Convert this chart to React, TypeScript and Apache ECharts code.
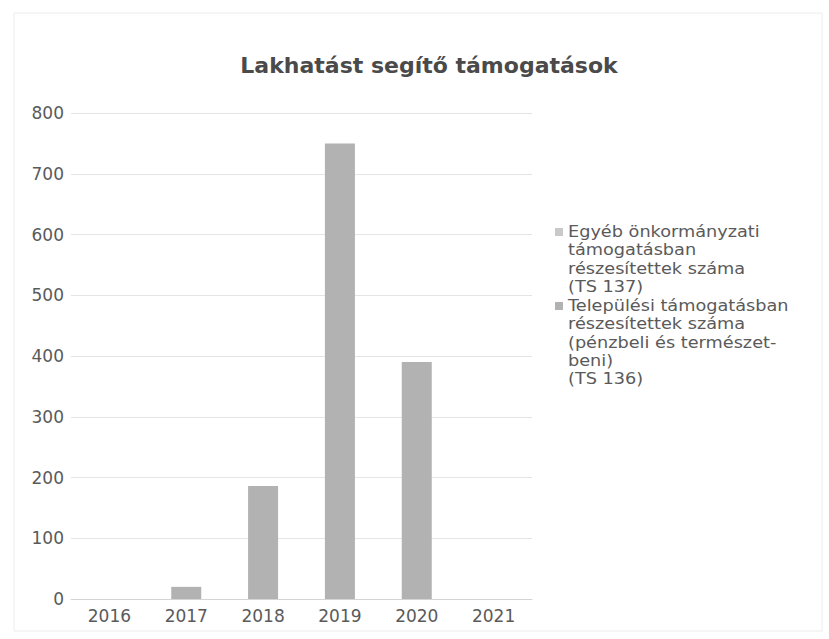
import React, { useEffect, useRef } from "react";
import * as echarts from "echarts";

const years = ["2016", "2017", "2018", "2019", "2020", "2021"];
const egyebValues = [0, 0, 0, 0, 0, 0];
const telepulesiValues = [0, 20, 186, 750, 390, 0];
const yTicks = { min: 0, max: 800, interval: 100 };

const nameEgyeb = "Egyéb önkormányzati\ntámogatásban\nrészesítettek száma\n(TS 137)";
const nameTelep = "Települési támogatásban\nrészesítettek száma\n(pénzbeli és természet-\nbeni)\n(TS 136)";
const colorEgyeb = "#c9c9c9";
const colorTelep = "#b2b2b2";

const FONT = "DejaVu Sans";
const LH = 18.3;

function legendEntry(name: string, color: string, firstY: number) {
  const lines = name.split("\n");
  const els: any[] = [
    {
      type: "rect",
      shape: { x: 555, y: firstY - 4, width: 8, height: 8 },
      style: { fill: color },
      silent: true,
    },
  ];
  lines.forEach((ln, i) => {
    els.push({
      type: "text",
      x: 568,
      y: firstY + i * LH,
      scaleX: 1.18,
      style: {
        text: ln,
        fontFamily: FONT,
        fontSize: 15,
        fill: "#5a5a5a",
        verticalAlign: "middle",
        align: "left",
      },
      silent: true,
    });
  });
  return els;
}

export default function App() {
  const ref = useRef<HTMLDivElement>(null);
  useEffect(() => {
    if (!ref.current) return;
    const chart = echarts.init(ref.current, null, { renderer: "svg" });
    chart.setOption({
      animation: false,
      backgroundColor: "#ffffff",
      title: {
        text: "Lakhatást segítő támogatások",
        left: 424,
        textAlign: "center",
        top: 49,
        textStyle: { fontFamily: FONT, fontSize: 22, fontWeight: "bold", color: "#4a4a4a" },
      },
      graphic: [
        {
          type: "rect",
          shape: { x: 14, y: 13, width: 808, height: 618 },
          style: { fill: "none", stroke: "#ececec", lineWidth: 1 },
          silent: true,
          z: -1,
        },
        ...legendEntry(nameEgyeb, colorEgyeb, 232),
        ...legendEntry(nameTelep, colorTelep, 306),
      ],
      legend: { show: false },
      grid: { left: 71, right: 297, top: 113, bottom: 40, containLabel: false },
      xAxis: {
        type: "category",
        data: years,
        axisTick: { show: false },
        axisLine: { lineStyle: { color: "#d4d4d4" } },
        axisLabel: { fontFamily: FONT, fontSize: 17, color: "#5a5a5a", margin: 8 },
      },
      yAxis: {
        type: "value",
        min: yTicks.min,
        max: yTicks.max,
        interval: yTicks.interval,
        axisLine: { show: false },
        axisTick: { show: false },
        splitLine: { lineStyle: { color: "#e4e4e4" } },
        axisLabel: { fontFamily: FONT, fontSize: 17, color: "#5a5a5a", margin: 7 },
      },
      series: [
        {
          name: nameEgyeb,
          type: "bar",
          stack: "total",
          data: egyebValues,
          barWidth: 30,
          itemStyle: { color: colorEgyeb },
        },
        {
          name: nameTelep,
          type: "bar",
          stack: "total",
          data: telepulesiValues,
          barWidth: 30,
          itemStyle: { color: colorTelep },
        },
      ],
    });
    return () => chart.dispose();
  }, []);
  return (
    <div
      ref={ref}
      style={{ position: "fixed", left: 0, top: 0, width: 829, height: 639 }}
    />
  );
}
